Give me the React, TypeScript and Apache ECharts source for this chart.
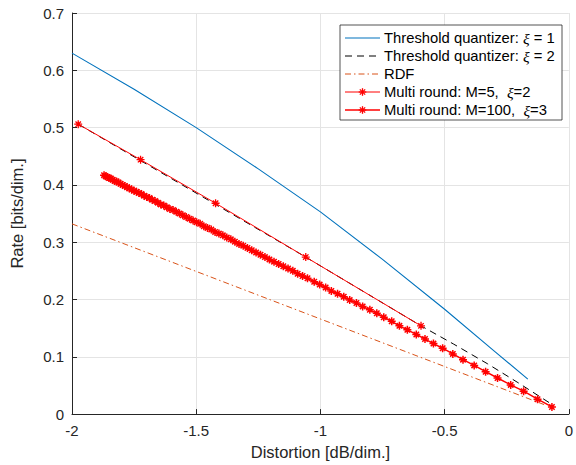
import React, { useEffect, useRef } from "react";
import * as echarts from "echarts";

// Threshold quantizer xi = 1 (blue)
const thr1X = [-2.0, -1.75, -1.5, -1.25, -1.0, -0.75, -0.5, -0.3, -0.165];
const thr1Y = [0.63, 0.567, 0.5, 0.428, 0.353, 0.27, 0.183, 0.11, 0.061];

// Threshold quantizer xi = 2 (black dashed)
const thr2X = [-1.975, -1.059, -0.595, -0.465, -0.328, -0.205, -0.061];
const thr2Y = [0.506, 0.274, 0.154, 0.1225, 0.088, 0.055, 0.015];

// RDF (orange dash-dot)
const rdfX = [-2.0, -1.0, -0.09];
const rdfY = [0.332, 0.166, 0.015];

// Multi round M=5, xi=2
const m5X = [-1.975, -1.724, -1.422, -1.059, -0.595];
const m5Y = [0.506, 0.444, 0.368, 0.274, 0.154];

// Multi round M=100, xi=3
const m100X = [
  -1.871, -1.8645, -1.8578, -1.8508, -1.8437, -1.8363, -1.8287, -1.8209, -1.8128, -1.8046,
  -1.7961, -1.7874, -1.7785, -1.7693, -1.76, -1.7504, -1.7406, -1.7306, -1.7203, -1.7099,
  -1.6992, -1.6883, -1.6772, -1.6658, -1.6543, -1.6425, -1.6305, -1.6183, -1.6058, -1.5932,
  -1.5803, -1.5672, -1.5539, -1.5403, -1.5266, -1.5126, -1.4984, -1.484, -1.4693, -1.4545,
  -1.4394, -1.4241, -1.4086, -1.3928, -1.3769, -1.3607, -1.3443, -1.3277, -1.3108, -1.2938,
  -1.2765, -1.259, -1.2413, -1.2233, -1.2052, -1.1868, -1.1682, -1.1494, -1.1303, -1.1111,
  -1.0916, -1.0719, -1.052, -1.025, -1.003, -0.979, -0.956, -0.931, -0.906, -0.882,
  -0.855, -0.83, -0.801, -0.773, -0.745, -0.713, -0.682, -0.65, -0.614, -0.579,
  -0.545, -0.508, -0.467, -0.426, -0.381, -0.335, -0.287, -0.234, -0.182, -0.126, -0.068,
];
const m100Y = [
  0.417, 0.415, 0.414, 0.412, 0.411, 0.409, 0.407, 0.406, 0.404, 0.402,
  0.4, 0.398, 0.396, 0.394, 0.392, 0.39, 0.388, 0.386, 0.384, 0.381,
  0.379, 0.377, 0.374, 0.372, 0.369, 0.366, 0.364, 0.361, 0.358, 0.356,
  0.353, 0.35, 0.347, 0.344, 0.341, 0.338, 0.335, 0.332, 0.328, 0.325,
  0.322, 0.318, 0.315, 0.312, 0.308, 0.305, 0.301, 0.297, 0.294, 0.29,
  0.286, 0.282, 0.278, 0.274, 0.27, 0.266, 0.262, 0.258, 0.254, 0.25,
  0.245, 0.241, 0.237, 0.231, 0.226, 0.221, 0.215, 0.21, 0.205, 0.199,
  0.194, 0.188, 0.182, 0.176, 0.169, 0.162, 0.154, 0.147, 0.139, 0.131,
  0.123, 0.115, 0.105, 0.095, 0.085, 0.074, 0.063, 0.051, 0.04, 0.026, 0.0125,
];

const seriesNames = [
  "Threshold quantizer: ξ = 1",
  "Threshold quantizer: ξ = 2",
  "RDF",
  "Multi round: M=5,  ξ=2",
  "Multi round: M=100,  ξ=3",
];
// legend texts with the Greek letter set in italics
const legendTexts = [
  "{n|Threshold quantizer: }{i|ξ}{n| = 1}",
  "{n|Threshold quantizer: }{i|ξ}{n| = 2}",
  "{n|RDF}{i| }",
  "{n|Multi round: M=5,  }{i|ξ}{n|=2}",
  "{n|Multi round: M=100,  }{i|ξ}{n|=3}",
];

const xLabel = "Distortion [dB/dim.]";
const yLabel = "Rate [bits/dim.]";

const FONT = "'Liberation Sans', Arial, Helvetica, sans-serif";
const AX = "#262626";
const BLUE = "#0072BD";
const ORANGE = "#D95319";
const RED = "#FF0000";
const STAR = "path://M5,0L5,10M0,5L10,5M1.6,1.6L8.4,8.4M1.6,8.4L8.4,1.6";
const LZ = 100;

const lineStyles: any[] = [
  { stroke: BLUE, lineWidth: 1.1 },
  { stroke: "#000", lineWidth: 1, lineDash: [7, 5] },
  { stroke: ORANGE, lineWidth: 1, lineDash: [6, 3, 1.5, 3] },
  { stroke: RED, lineWidth: 1 },
  { stroke: RED, lineWidth: 1.5 },
];
const hasStar = [false, false, false, true, true];

const zip = (xs: number[], ys: number[]) => xs.map((x, i) => [x, ys[i]]);

function starLines(cx: number, cy: number, r: number, w: number) {
  const d = r * 0.7;
  const segs = [
    [cx, cy - r, cx, cy + r],
    [cx - r, cy, cx + r, cy],
    [cx - d, cy - d, cx + d, cy + d],
    [cx - d, cy + d, cx + d, cy - d],
  ];
  return segs.map((s) => ({
    type: "line",
    z: LZ + 2,
    shape: { x1: s[0], y1: s[1], x2: s[2], y2: s[3] },
    style: { stroke: RED, lineWidth: w },
  }));
}

function buildLegend() {
  const x0 = 340;
  const y0 = 25;
  const rowH = 18;
  const firstY = 38;
  const els: any[] = [
    {
      type: "rect",
      z: LZ,
      shape: { x: x0, y: y0, width: 222, height: 95 },
      style: { fill: "#fff", stroke: AX, lineWidth: 0.8 },
    },
  ];
  seriesNames.forEach((_, i) => {
    const cy = firstY + i * rowH;
    els.push({
      type: "line",
      z: LZ + 1,
      shape: { x1: 345, y1: cy, x2: 380, y2: cy },
      style: { ...lineStyles[i], fill: null },
    });
    if (hasStar[i]) els.push(...starLines(362.5, cy, 3.8, 1.3));
    els.push({
      type: "text",
      z: LZ + 1,
      x: 384,
      y: cy,
      style: {
        text: legendTexts[i],
        verticalAlign: "middle",
        align: "left",
        fill: "#000",
        font: `14.8px ${FONT}`,
        rich: {
          n: { fontFamily: FONT, fontSize: 14.8, fill: "#000", lineHeight: 17 },
          i: {
            fontFamily: "'Liberation Serif', 'Times New Roman', serif",
            fontStyle: "italic",
            fontSize: 15.5,
            fill: "#000",
            lineHeight: 17,
          },
        },
      },
    });
  });
  return els;
}

export default function App() {
  const ref = useRef<HTMLDivElement>(null);
  useEffect(() => {
    if (!ref.current) return;
    const chart = echarts.init(ref.current, undefined, { renderer: "svg" });
    chart.setOption({
      animation: false,
      backgroundColor: "#fff",
      grid: { left: 62, right: 2, top: 13, bottom: 49, containLabel: false },
      xAxis: {
        type: "value",
        min: -2,
        max: 0,
        interval: 0.5,
        name: xLabel,
        nameLocation: "middle",
        nameGap: 27,
        nameTextStyle: { fontFamily: FONT, fontSize: 16.5, color: AX },
        axisLine: { show: true, onZero: false, lineStyle: { color: AX, width: 1 } },
        axisTick: { show: true, inside: true, length: 5, lineStyle: { color: AX } },
        axisLabel: {
          fontFamily: FONT,
          fontSize: 15,
          color: AX,
          margin: 9,
          showMinLabel: true,
          showMaxLabel: true,
          formatter: (v: number) => String(Math.round(v * 10) / 10),
        },
        splitLine: { show: true, lineStyle: { color: "#e4e4e4", width: 1 } },
      },
      yAxis: {
        type: "value",
        min: 0,
        max: 0.7,
        interval: 0.1,
        name: yLabel,
        nameLocation: "middle",
        nameGap: 47,
        nameTextStyle: { fontFamily: FONT, fontSize: 16.5, color: AX },
        axisLine: { show: true, onZero: false, lineStyle: { color: AX, width: 1 } },
        axisTick: { show: true, inside: true, length: 5, lineStyle: { color: AX } },
        axisLabel: {
          fontFamily: FONT,
          fontSize: 15,
          color: AX,
          margin: 8,
          formatter: (v: number) => String(Math.round(v * 10) / 10),
        },
        splitLine: { show: true, lineStyle: { color: "#e4e4e4", width: 1 } },
      },
      graphic: { elements: buildLegend() },
      series: [
        {
          name: seriesNames[0],
          type: "line",
          data: zip(thr1X, thr1Y),
          showSymbol: false,
          symbol: "none",
          lineStyle: { color: BLUE, width: 1.1 },
          itemStyle: { color: BLUE },
          z: 2,
        },
        {
          name: seriesNames[1],
          type: "line",
          data: zip(thr2X, thr2Y),
          symbol: "none",
          lineStyle: { color: "#000", width: 1, type: [7, 5] },
          itemStyle: { color: "#000" },
          z: 2,
        },
        {
          name: seriesNames[2],
          type: "line",
          data: zip(rdfX, rdfY),
          symbol: "none",
          lineStyle: { color: ORANGE, width: 1, type: [6, 3, 1.5, 3] },
          itemStyle: { color: ORANGE },
          z: 2,
        },
        {
          name: seriesNames[3],
          type: "line",
          data: zip(m5X, m5Y),
          symbol: STAR,
          symbolSize: 8,
          showAllSymbol: true,
          lineStyle: { color: RED, width: 1 },
          itemStyle: { color: RED, borderColor: RED, borderWidth: 1.3 },
          z: 3,
        },
        {
          name: seriesNames[4],
          type: "line",
          data: zip(m100X, m100Y),
          symbol: STAR,
          symbolSize: 8,
          showAllSymbol: true,
          lineStyle: { color: RED, width: 1.5 },
          itemStyle: { color: RED, borderColor: RED, borderWidth: 1.5 },
          z: 4,
        },
      ],
    });
    return () => chart.dispose();
  }, []);
  return (
    <div
      ref={ref}
      style={{ position: "fixed", left: 0, top: 0, width: 576, height: 465, background: "#fff" }}
    />
  );
}
